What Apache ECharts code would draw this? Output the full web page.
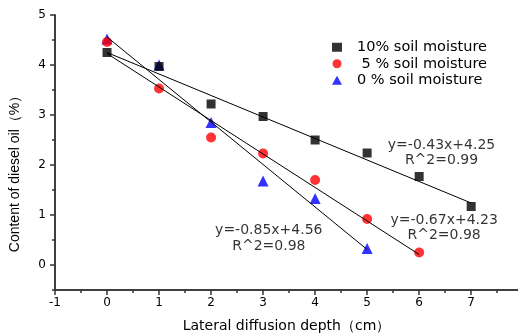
<!DOCTYPE html>
<html><head><meta charset="utf-8">
<script src="https://cdn.jsdelivr.net/npm/echarts@6/dist/echarts.min.js"></script>
<style>html,body{margin:0;padding:0;background:#fff}#c{width:518px;height:335px}</style>
</head><body><div id="c"></div>
<script>
const depth10 = [0,1,2,3,4,5,6,7];
const moist10 = [4.25,3.97,3.22,2.97,2.50,2.24,1.77,1.17];
const depth5 = [0,1,2,3,4,5,6];
const moist5 = [4.46,3.53,2.55,2.23,1.70,0.92,0.25];
const depth0 = [0,1,2,3,4,5];
const moist0 = [4.52,4.00,2.85,1.68,1.33,0.33];
const fits = [
  {slope:-0.43, icpt:4.25, x0:0, x1:7, eq:'y=-0.43x+4.25\nR^2=0.99', at:[6.43,2.24]},
  {slope:-0.67, icpt:4.23, x0:0, x1:6, eq:'y=-0.67x+4.23\nR^2=0.98', at:[6.48,0.74]},
  {slope:-0.85, icpt:4.56, x0:0, x1:5, eq:'y=-0.85x+4.56\nR^2=0.98', at:[3.11,0.53]}
];
const xLabels = [-1,0,1,2,3,4,5,6,7];
const xMinor = [-0.5,0.5,1.5,2.5,3.5,4.5,5.5,6.5,7.5];
const yLabels = [0,1,2,3,4,5];
const yMinor = [-0.5,0.5,1.5,2.5,3.5,4.5];
const names = ['10% soil moisture',' 5 % soil moisture','0 % soil moisture'];

const dv = '"DejaVu Sans", sans-serif';
const lib = '"Liberation Sans", Arial, sans-serif';
const chart = echarts.init(document.getElementById('c'));
const zip = (a,b)=>a.map((v,i)=>[v,b[i]]);
const series = [
  {name:names[0], type:'scatter', data:zip(depth10,moist10), symbol:'rect', symbolSize:9, itemStyle:{color:'#000'}, z:5},
  {name:names[1], type:'scatter', data:zip(depth5,moist5), symbol:'circle', symbolSize:10, itemStyle:{color:'#ff0000'}, z:4},
  {name:names[2], type:'scatter', data:zip(depth0,moist0), symbol:'triangle', symbolSize:11, itemStyle:{color:'#0000ff'}, z:3}
];
fits.forEach(f=>{
  series.push({type:'line', data:[[f.x0,f.icpt+f.slope*f.x0],[f.x1,f.icpt+f.slope*f.x1]], symbol:'none',
    lineStyle:{color:'#000', width:1}, z:6, silent:true});
  series.push({type:'scatter', data:[f.at], symbolSize:0, silent:true,
    label:{show:true, position:'inside', formatter:f.eq, color:'#000', fontSize:14, fontFamily:dv, lineHeight:15.5, align:'center'}});
});
const tickStyle = {color:'#333', width:1.5};
chart.setOption({
  animation:false,
  backgroundColor:'#fff',
  grid:{left:55, right:0, top:15, bottom:45, containLabel:false, outerBoundsMode:'none'},
  legend:{data:names, left:327, top:34, orient:'vertical', itemGap:0, itemWidth:10, itemHeight:9,
    textStyle:{fontSize:14.5, fontFamily:dv, color:'#000', lineHeight:16.5, padding:[0,0,0,10]}},
  xAxis:[{type:'value', min:-1, max:7.9, interval:1, name:'Lateral diffusion depth（cm）', nameLocation:'middle', nameGap:29,
    nameTextStyle:{fontSize:14, fontFamily:dv, color:'#000'},
    axisLine:{show:true, onZero:false, lineStyle:tickStyle},
    axisTick:{show:true, inside:false, length:5, customValues:xLabels, lineStyle:tickStyle},
    axisLabel:{customValues:xLabels, fontSize:12, fontFamily:dv, color:'#000', margin:7},
    splitLine:{show:false}},
   {type:'value', min:-1, max:7.9, position:'bottom', offset:0, axisLine:{show:true, onZero:false, lineStyle:tickStyle},
    axisTick:{show:true, inside:false, length:3, customValues:xMinor, lineStyle:tickStyle},
    axisLabel:{show:false}, splitLine:{show:false}}],
  yAxis:[{type:'value', min:-0.5, max:5, name:'Content of diesel oil（%）', nameLocation:'middle', nameGap:33,
    nameTextStyle:{fontSize:14, fontFamily:lib, color:'#000', padding:[0,36,0,0]},
    axisLine:{show:true, onZero:false, lineStyle:tickStyle},
    axisTick:{show:true, inside:false, length:5, customValues:yLabels, lineStyle:tickStyle},
    axisLabel:{customValues:yLabels, fontSize:12, fontFamily:dv, color:'#000', margin:9},
    splitLine:{show:false}},
   {type:'value', min:-0.5, max:5, position:'left', offset:0, axisLine:{show:true, onZero:false, lineStyle:tickStyle},
    axisTick:{show:true, inside:false, length:3, customValues:yMinor, lineStyle:tickStyle},
    axisLabel:{show:false}, splitLine:{show:false}}],
  series:series
});
</script></body></html>
